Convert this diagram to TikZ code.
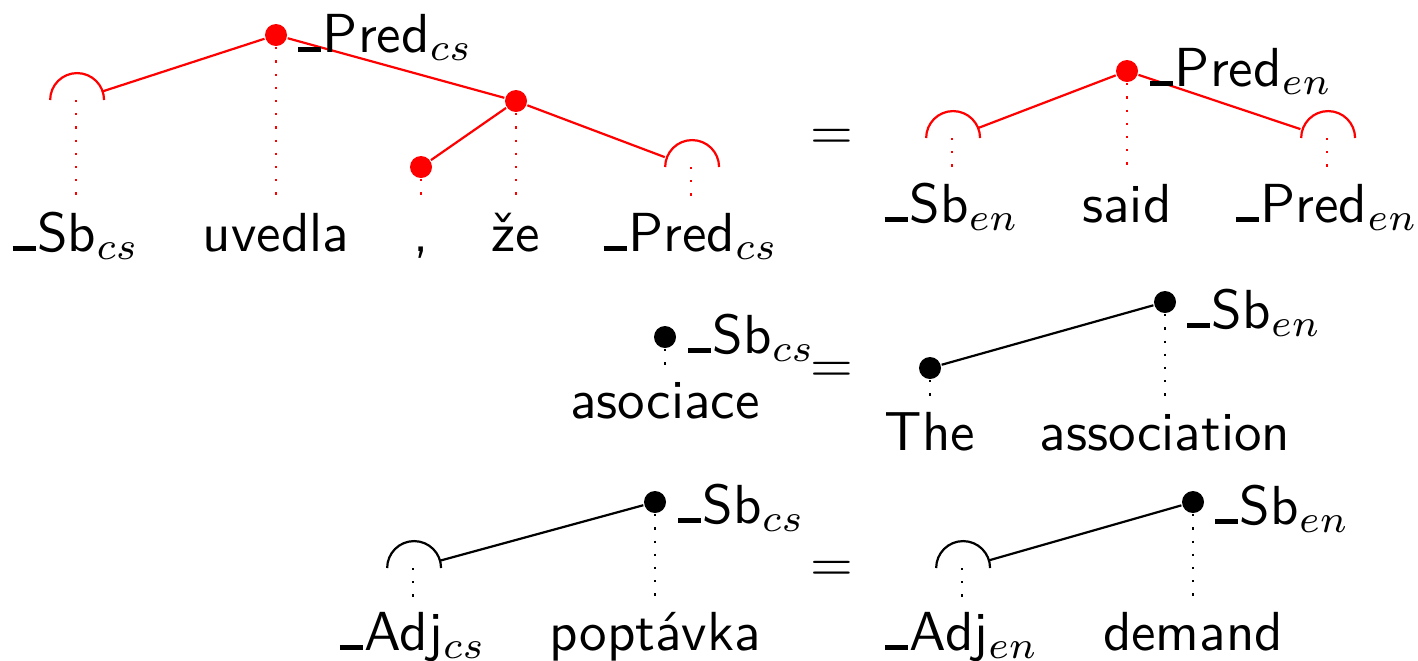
\documentclass[tikz,border=0pt]{standalone}
\newcommand{\myus}{\rule{4.2pt}{0.95pt}\kern0.3pt}
\begin{document}
\begin{tikzpicture}[x=0.181818pt,y=-0.181818pt,
  font=\fontsize{10}{12}\selectfont\sffamily,
  dot/.style={circle,fill,draw=none,inner sep=0pt,minimum size=4pt},
  hook/.style={circle,inner sep=0pt,minimum size=9.8pt},
  word/.style={anchor=base,inner xsep=0pt,inner ysep=1.6pt,text height=7pt,text depth=2pt},
  lbl/.style={anchor=base west,inner sep=0pt},
  link/.style={dotted},
  eqs/.style={inner sep=0pt}]
\useasboundingbox (0,0) rectangle (1418,660);
% ---------- top left (Czech) ----------
\begin{scope}[red]
\node[dot] (cpred) at (276,35) {};
\node[hook] (csb) at (76,100) {};
\node[dot] (ccomma) at (421,167) {};
\node[dot] (cze) at (516,101) {};
\node[hook] (cpred2) at (691,167) {};
\draw (csb.east) arc[start angle=0,end angle=180,radius=4.9pt];
\draw (cpred2.east) arc[start angle=0,end angle=180,radius=4.9pt];
\draw (cpred) -- (csb);
\draw (cpred) -- (cze);
\draw (cze) -- (ccomma);
\draw (cze) -- (cpred2);
\end{scope}
\node[lbl] (cpredl) at (297,52) {\myus Pred$_{cs}$};
\node[word] (w1) at (76,251) {\myus Sb$_{cs}$};
\node[word] (w2) at (276,251) {uvedla};
\node[word] (w3) at (421,251) {,};
\node[word] (w4) at (516,251) {že};
\node[word] (w5) at (691,251) {\myus Pred$_{cs}$};
\begin{scope}[red,link]
\draw (csb.center) -- (w1.north);
\draw (cpred) -- (w2.north);
\draw (ccomma) -- (w3.north);
\draw (cze) -- (w4.north);
\draw (cpred2.center) -- (w5.north);
\end{scope}
\node[eqs] (eq1) at (832,139) {$=$};
% ---------- top right (English) ----------
\begin{scope}[red]
\node[dot] (epred) at (1127,71) {};
\node[hook] (esb) at (952,138) {};
\node[hook] (epred2) at (1327,138) {};
\draw (esb.east) arc[start angle=0,end angle=180,radius=4.9pt];
\draw (epred2.east) arc[start angle=0,end angle=180,radius=4.9pt];
\draw (epred) -- (esb);
\draw (epred) -- (epred2);
\end{scope}
\node[lbl] (epredl) at (1149,86) {\myus Pred$_{en}$};
\node[word] (e1) at (952,222) {\myus Sb$_{en}$};
\node[word] (e2) at (1127,222) {said};
\node[word] (e3) at (1327,222) {\myus Pred$_{en}$};
\begin{scope}[red,link]
\draw (esb.center) -- (e1.north);
\draw (epred) -- (e2.north);
\draw (epred2.center) -- (e3.north);
\end{scope}
% ---------- middle ----------
\node[dot] (masoc) at (665,337) {};
\node[lbl] (masocl) at (687,353) {\myus Sb$_{cs}$};
\node[word] (m1) at (665,418) {asociace};
\draw[link] (masoc) -- (m1.north);
\node[eqs] (eq2) at (832,372) {$=$};
\node[dot] (mthe) at (930,368) {};
\node[dot] (massoc) at (1165,302) {};
\node[lbl] (massocl) at (1186,328) {\myus Sb$_{en}$};
\draw (massoc) -- (mthe);
\node[word] (m2) at (930,450) {The};
\node[word] (m3) at (1165,450) {association};
\draw[link] (mthe) -- (m2.north);
\draw[link] (massoc) -- (m3.north);
% ---------- bottom ----------
\node[hook] (badj) at (413,568) {};
\node[dot] (bpop) at (655,502) {};
\node[lbl] (bpopl) at (677,523) {\myus Sb$_{cs}$};
\draw (badj.east) arc[start angle=0,end angle=180,radius=4.9pt];
\draw (bpop) -- (badj);
\node[word] (b1) at (413,650) {\myus Adj$_{cs}$};
\node[word] (b2) at (655,650) {poptávka};
\draw[link] (badj.center) -- (b1.north);
\draw[link] (bpop) -- (b2.north);
\node[eqs] (eq3) at (832,571) {$=$};
\node[hook] (badje) at (962,568) {};
\node[dot] (bdem) at (1193,502) {};
\node[lbl] (bdeml) at (1214,524) {\myus Sb$_{en}$};
\draw (badje.east) arc[start angle=0,end angle=180,radius=4.9pt];
\draw (bdem) -- (badje);
\node[word] (b3) at (962,650) {\myus Adj$_{en}$};
\node[word] (b4) at (1193,650) {demand};
\draw[link] (badje.center) -- (b3.north);
\draw[link] (bdem) -- (b4.north);
\end{tikzpicture}
\end{document}
